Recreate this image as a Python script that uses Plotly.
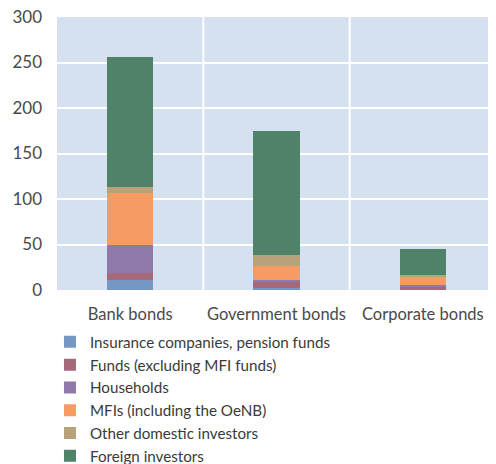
import plotly.graph_objects as go

categories = ["Bank bonds", "Government bonds", "Corporate bonds"]
insurance = [11, 2.6, 1.0]
funds = [7.7, 6.2, 2.0]
households = [30.8, 2.2, 2.5]
mfis = [57, 15.7, 8.8]
other_domestic = [6.6, 11.8, 2.2]
foreign = [143, 136, 28.5]

series_names = [
    "Insurance companies, pension funds",
    "Funds (excluding MFI funds)",
    "Households",
    "MFIs (including the OeNB)",
    "Other domestic investors",
    "Foreign investors",
]
series_values = [insurance, funds, households, mfis, other_domestic, foreign]
colors = ["#7498c3", "#a5697a", "#8e79a9", "#f79b64", "#b8a27a", "#4e836a"]

fig = go.Figure()
for name, vals, col in zip(series_names, series_values, colors):
    fig.add_trace(go.Bar(x=categories, y=vals, name=name, marker_color=col,
                         marker_line_width=0, width=0.315))

fig.update_layout(
    barmode="stack",
    width=488, height=456,
    margin=dict(l=49, r=0, t=9, b=174, autoexpand=False),
    plot_bgcolor="#d5e0f0",
    paper_bgcolor="white",
    font=dict(family="Lato", size=16, color="#4a4a4a"),
    showlegend=True,
    legend=dict(orientation="v", x=-0.016, y=-0.13, xanchor="left", yanchor="top",
                traceorder="normal", font=dict(size=15.2, color="#3a3a3a"),
                tracegroupgap=0, itemwidth=30),
    xaxis=dict(showgrid=False, ticks="", automargin=False, ticklabelstandoff=12,
               tickfont=dict(size=16.5, color="#4a4a4a")),
    yaxis=dict(range=[0, 300], dtick=50, showgrid=True, gridcolor="white", gridwidth=2,
               zeroline=False, ticks="", automargin=False, ticklabelstandoff=14,
               ticklabeloverflow="allow",
               tickfont=dict(size=17, color="#4a4a4a")),
)
for xv in [0.5, 1.5]:
    fig.add_shape(type="line", xref="x", yref="paper", x0=xv, x1=xv, y0=0, y1=1,
                  line=dict(color="white", width=2), layer="below")

fig.write_html("out.html")
